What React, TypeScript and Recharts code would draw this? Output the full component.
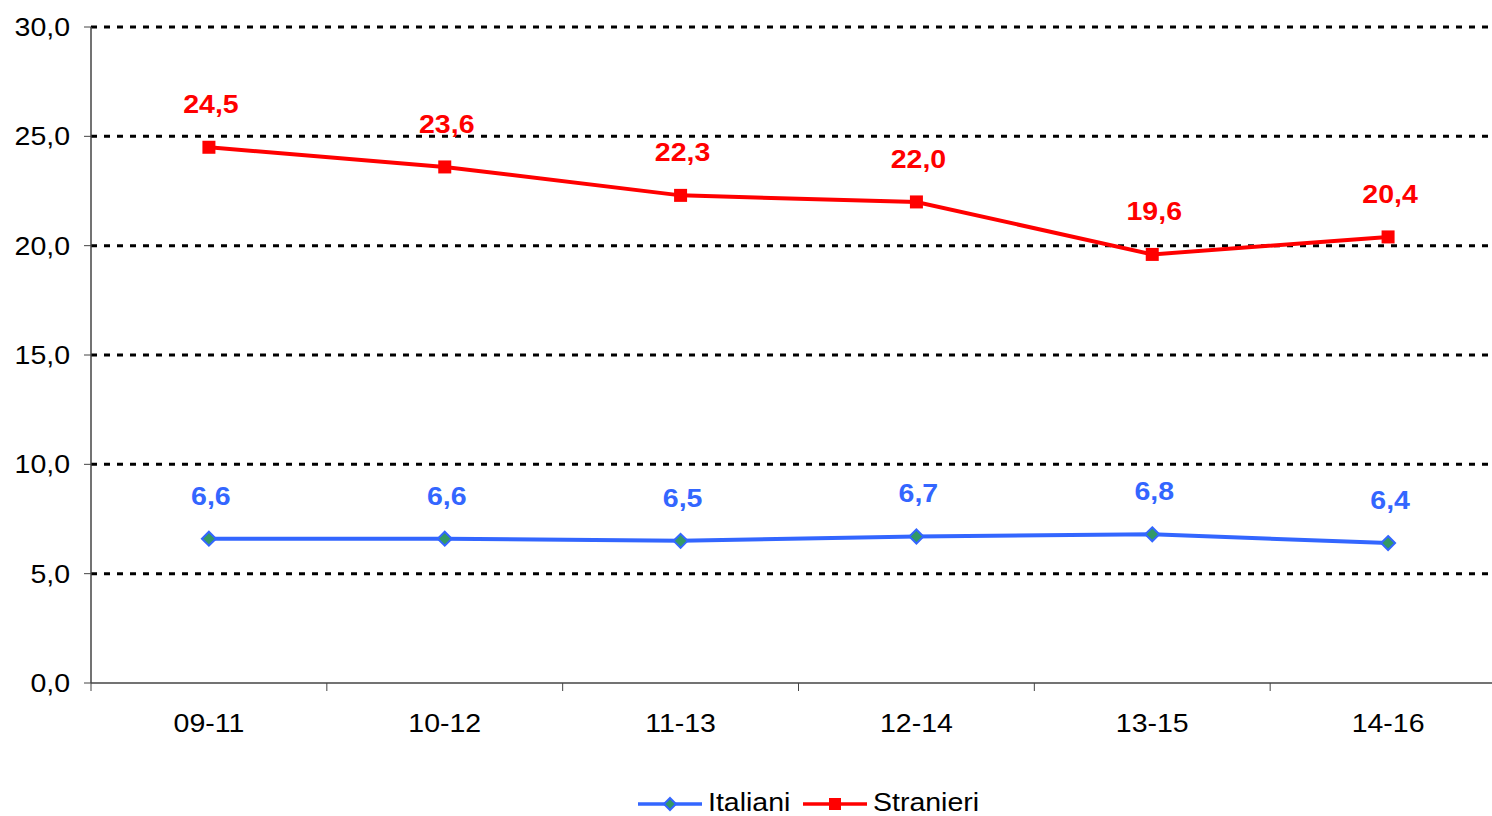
import React from 'react';
import { LineChart, Line, XAxis, YAxis, CartesianGrid, Legend, LabelList } from 'recharts';

const categories = ['09-11', '10-12', '11-13', '12-14', '13-15', '14-16'];
const italiani = [6.6, 6.6, 6.5, 6.7, 6.8, 6.4];
const stranieri = [24.5, 23.6, 22.3, 22.0, 19.6, 20.4];
const yTicks = [0, 5, 10, 15, 20, 25, 30];
const gridValues = [5, 10, 15, 20, 25, 30];

const BLUE = '#3366FF';
const RED = '#FF0000';
const GREEN = '#339966';
const FONT = '"Liberation Sans", Arial, sans-serif';
const SX = 1.14;
const FS = 25;
const LEGEND_H = 22;

const data = categories.map((c, i) => ({ x: i + 0.5, period: c, italiani: italiani[i], stranieri: stranieri[i] }));
const xTicks: number[] = [];
for (let i = 0; i <= categories.length * 2; i++) xTicks.push(i / 2);

const fmt = (v: number) => v.toFixed(1).replace('.', ',');

const XTick = (props: any) => {
  const { x, y, payload } = props;
  const v = payload.value as number;
  if (Number.isInteger(v)) {
    return <line x1={x} x2={x} y1={y} y2={y + 8} stroke="#444" strokeWidth={1} />;
  }
  const label = categories[Math.floor(v)];
  return (
    <g transform={`translate(${x},${y + 49}) scale(${SX},1)`}>
      <text textAnchor="middle" fontFamily={FONT} fontSize={FS} fill="#000">{label}</text>
    </g>
  );
};

const YTick = (props: any) => {
  const { x, y, payload } = props;
  return (
    <g transform={`translate(${x},${y + 9}) scale(${SX},1)`}>
      <text textAnchor="end" fontFamily={FONT} fontSize={FS} fill="#000">{fmt(payload.value)}</text>
    </g>
  );
};

const makeLabel = (color: string) => (props: any) => {
  const { x, y, value } = props;
  return (
    <g transform={`translate(${x + 2},${y - 34}) scale(${SX},1)`}>
      <text textAnchor="middle" fontFamily={FONT} fontSize={FS} fontWeight="bold" fill={color}>{fmt(value)}</text>
    </g>
  );
};

const SquareDot = (props: any) => {
  const { cx, cy } = props;
  if (cx == null || cy == null) return null;
  return <rect x={cx - 6.5} y={cy - 6.5} width={13} height={13} fill={RED} />;
};

const DiamondDot = (props: any) => {
  const { cx, cy } = props;
  if (cx == null || cy == null) return null;
  const r = 7;
  return <polygon points={`${cx},${cy - r} ${cx + r},${cy} ${cx},${cy + r} ${cx - r},${cy}`} fill={GREEN} stroke={BLUE} strokeWidth={2} />;
};

const renderLegend = () => {
  const item = (name: string, color: string, marker: React.ReactNode, width: number) => (
    <div style={{ display: 'flex', alignItems: 'center', width, height: LEGEND_H }}>
      <svg width={64} height={LEGEND_H} style={{ flex: 'none' }}>
        <line x1={0} x2={64} y1={13} y2={13} stroke={color} strokeWidth={3.5} />
        {marker}
      </svg>
      <span style={{ display: 'inline-block', marginLeft: 6, fontFamily: FONT, fontSize: FS, lineHeight: `${LEGEND_H}px`, color: '#000', transform: `scaleX(${SX})`, transformOrigin: 'left center', whiteSpace: 'nowrap' }}>{name}</span>
    </div>
  );
  return (
    <div style={{ display: 'flex', alignItems: 'center', height: LEGEND_H }}>
      {item('Italiani', BLUE, <polygon points="32,7 38,13 32,19 26,13" fill={GREEN} stroke={BLUE} strokeWidth={2} />, 165)}
      {item('Stranieri', RED, <rect x={26} y={7} width={12} height={12} fill={RED} />, 200)}
    </div>
  );
};

export default function App() {
  return (
    <div style={{ position: 'absolute', left: 0, top: 0, width: 1492, height: 816, overflow: 'hidden', background: '#fff' }}>
      <LineChart width={1520} height={816} data={data} margin={{ top: 27, right: 14, left: 0, bottom: 0 }}>
        <CartesianGrid vertical={false} horizontalValues={gridValues} stroke="#000" strokeWidth={3} strokeDasharray="6 7" />
        <XAxis
          type="number"
          dataKey="x"
          domain={[0, categories.length]}
          ticks={xTicks}
          interval={0}
          tickLine={false}
          tickSize={0}
          tickMargin={0}
          tick={<XTick />}
          axisLine={{ stroke: '#444', strokeWidth: 1.5 }}
          height={133 - LEGEND_H}
          allowDecimals
        />
        <YAxis
          type="number"
          domain={[0, 30]}
          ticks={yTicks}
          interval={0}
          width={91}
          tickSize={7}
          tickMargin={14}
          tickLine={{ stroke: '#444' }}
          axisLine={{ stroke: '#444', strokeWidth: 1.5 }}
          tick={<YTick />}
        />
        <Legend content={renderLegend} verticalAlign="bottom" wrapperStyle={{ left: 638, width: 420, bottom: 3, height: LEGEND_H }} />
        <Line type="linear" dataKey="italiani" name="Italiani" stroke={BLUE} strokeWidth={4} dot={<DiamondDot />} activeDot={false} isAnimationActive={false}>
          <LabelList dataKey="italiani" content={makeLabel(BLUE)} />
        </Line>
        <Line type="linear" dataKey="stranieri" name="Stranieri" stroke={RED} strokeWidth={4} dot={<SquareDot />} activeDot={false} isAnimationActive={false}>
          <LabelList dataKey="stranieri" content={makeLabel(RED)} />
        </Line>
      </LineChart>
    </div>
  );
}
